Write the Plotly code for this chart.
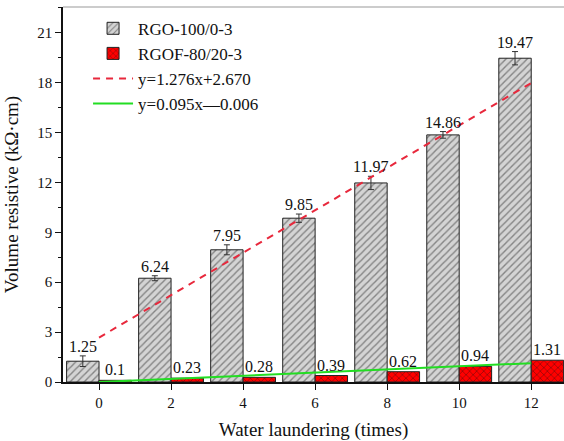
import plotly.graph_objects as go

washes = [0, 2, 4, 6, 8, 10, 12]
rgo_vals = [1.25, 6.24, 7.95, 9.85, 11.97, 14.86, 19.47]
rgo_err = [0.32, 0.15, 0.3, 0.25, 0.4, 0.2, 0.4]
rgof_vals = [0.1, 0.23, 0.28, 0.39, 0.62, 0.94, 1.31]
rgof_err = [0.0, 0.0, 0.0, 0.0, 0.0, 0.0, 0.0]
rgo_labels = ["1.25", "6.24", "7.95", "9.85", "11.97", "14.86", "19.47"]
rgof_labels = ["0.1", "0.23", "0.28", "0.39", "0.62", "0.94", "1.31"]

fit_red = (1.276, 2.670)   # slope, intercept
fit_green = (0.095, -0.006)
fit_x = [0, 12]

y_ticks = [0, 3, 6, 9, 12, 15, 18, 21]

FONT = "Liberation Serif, 'Times New Roman', 'DejaVu Serif', serif"

fig = go.Figure()
fig.add_trace(go.Bar(
    x=washes, y=rgo_vals, name="RGO-100/0-3",
    marker=dict(color="#d4d4d4", line=dict(color="#222", width=1),
                pattern=dict(shape="/", fgcolor="#333", bgcolor="#d4d4d4", size=5, solidity=0.28)),
    error_y=dict(type="data", array=rgo_err, visible=True, color="#333", thickness=1, width=3),
))
fig.add_trace(go.Bar(
    x=washes, y=rgof_vals, name="RGOF-80/20-3",
    marker=dict(color="#ff0000", line=dict(color="#222", width=1),
                pattern=dict(shape="x", fgcolor="#111", bgcolor="#ff0000", size=5, solidity=0.25)),
))
fig.add_trace(go.Scatter(
    x=fit_x, y=[fit_red[0] * v + fit_red[1] for v in fit_x], mode="lines",
    name="y=1.276x+2.670", line=dict(color="#e8283c", width=2, dash="7px,6px"),
))
fig.add_trace(go.Scatter(
    x=fit_x, y=[fit_green[0] * v + fit_green[1] for v in fit_x], mode="lines",
    name="y=0.095x\u20140.006", line=dict(color="#22dd22", width=2),
))

for xv, v, e, lab in zip(washes, rgo_vals, rgo_err, rgo_labels):
    fig.add_annotation(x=xv - 0.45, y=v + e, text=lab, showarrow=False,
                       yanchor="bottom", yshift=-1, font=dict(family=FONT, size=16, color="#111"))
for xv, v, e, lab in zip(washes, rgof_vals, rgof_err, rgof_labels):
    fig.add_annotation(x=xv + 0.45, y=v + e, text=lab, showarrow=False,
                       yanchor="bottom", yshift=0, font=dict(family=FONT, size=16, color="#111"))

fig.add_shape(type="line", xref="paper", yref="paper", x0=0, x1=1, y0=1, y1=1,
              line=dict(color="#999", width=1))

fig.update_layout(
    width=564, height=441,
    margin=dict(l=63, r=0, t=7, b=59),
    paper_bgcolor="white", plot_bgcolor="white",
    barmode="group", bargap=0.1, bargroupgap=0,
    font=dict(family=FONT, size=15, color="#111"),
    showlegend=True,
    legend=dict(x=0.05, y=0.99, xanchor="left", yanchor="top",
                bgcolor="rgba(0,0,0,0)", font=dict(family=FONT, size=17),
                tracegroupgap=0, itemwidth=40),
)
fig.update_xaxes(
    range=[-1, 12.91], tickvals=washes, ticktext=[str(w) for w in washes],
    showline=True, linecolor="#111", linewidth=1.5, ticks="outside", ticklen=6,
    tickcolor="#111", showgrid=False, zeroline=False,
    title=dict(text="Water laundering (times)", font=dict(family=FONT, size=19), standoff=14),
    tickfont=dict(family=FONT, size=15),
)
fig.update_yaxes(
    range=[0, 22.55], tickvals=y_ticks, ticktext=[str(t) for t in y_ticks],
    showline=True, linecolor="#111", linewidth=1.5, ticks="outside", ticklen=6,
    tickcolor="#111", showgrid=False, zeroline=False,
    minor=dict(dtick=1.5, tick0=0, ticks="outside", ticklen=3, tickcolor="#111"),
    title=dict(text="Volume resistive (k\u03a9\u00b7cm)", font=dict(family=FONT, size=19), standoff=14),
    tickfont=dict(family=FONT, size=15),
)

fig.write_html("out.html", config={"displayModeBar": False},
               post_script="document.body.style.margin='0';")
